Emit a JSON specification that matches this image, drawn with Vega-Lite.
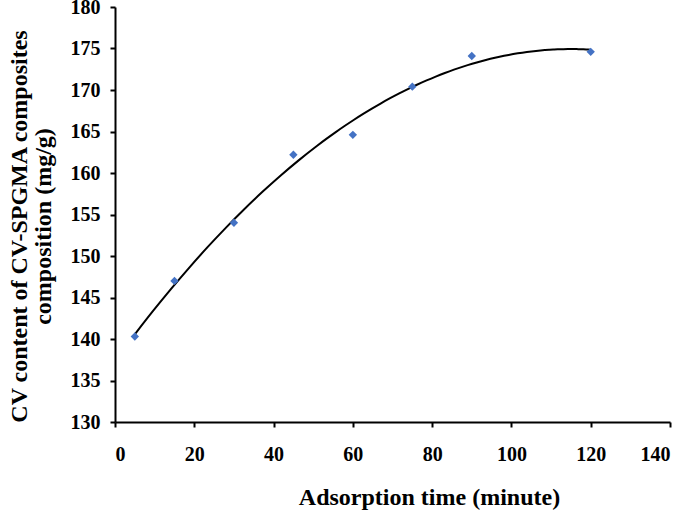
{
  "$schema": "https://vega.github.io/schema/vega-lite/v6.json",
  "width": 555,
  "height": 415,
  "autosize": {"type": "none"},
  "padding": {"left": 115, "top": 7, "right": 15, "bottom": 91},
  "background": "white",
  "config": {"view": {"stroke": null}},
  "data": {"values": [
    {"time": 5, "content": 140.3},
    {"time": 15, "content": 147.0},
    {"time": 30, "content": 154.0},
    {"time": 45, "content": 162.2},
    {"time": 60, "content": 164.6},
    {"time": 75, "content": 170.4},
    {"time": 90, "content": 174.1},
    {"time": 120, "content": 174.6}
  ]},
  "layer": [
    {
      "transform": [{"regression": "content", "on": "time", "method": "poly", "order": 2, "extent": [5, 120]}],
      "mark": {"type": "line", "color": "black", "strokeWidth": 2, "interpolate": "monotone"},
      "encoding": {
        "x": {"field": "time", "type": "quantitative"},
        "y": {"field": "content", "type": "quantitative"}
      }
    },
    {
      "mark": {"type": "point", "shape": "diamond", "filled": true, "color": "#4472C4", "size": 70, "opacity": 1},
      "encoding": {
        "x": {"field": "time", "type": "quantitative",
          "scale": {"domain": [0, 140], "nice": false, "zero": false},
          "axis": {
            "title": "Adsorption time (minute)",
            "values": [0, 20, 40, 60, 80, 100, 120, 140],
            "grid": false, "domainColor": "black", "domainWidth": 2,
            "tickColor": "black", "tickWidth": 2, "tickSize": 5,
            "labelFont": "Liberation Serif", "labelFontWeight": "bold", "labelFontSize": 20, "labelColor": "black",
            "labelPadding": 17,
            "titleFont": "Liberation Serif", "titleFontWeight": "bold", "titleFontSize": 24, "titleColor": "black",
            "titleX": 314, "titleY": 75, "titleAlign": "center", "titleBaseline": "middle"
          }
        },
        "y": {"field": "content", "type": "quantitative",
          "scale": {"domain": [130, 180], "nice": false, "zero": false},
          "axis": {
            "title": ["CV content of CV-SPGMA composites", "composition (mg/g)"],
            "values": [130, 135, 140, 145, 150, 155, 160, 165, 170, 175, 180],
            "grid": false, "domainColor": "black", "domainWidth": 2,
            "tickColor": "black", "tickWidth": 2, "tickSize": 5,
            "labelFont": "Liberation Serif", "labelFontWeight": "bold", "labelFontSize": 20, "labelColor": "black",
            "labelPadding": 10,
            "titleFont": "Liberation Serif", "titleFontWeight": "bold", "titleFontSize": 24, "titleColor": "black",
            "titleLineHeight": 24,
            "titleX": -96, "titleY": 219, "titleAlign": "center", "titleAngle": -90, "titleBaseline": "middle"
          }
        }
      }
    }
  ]
}
